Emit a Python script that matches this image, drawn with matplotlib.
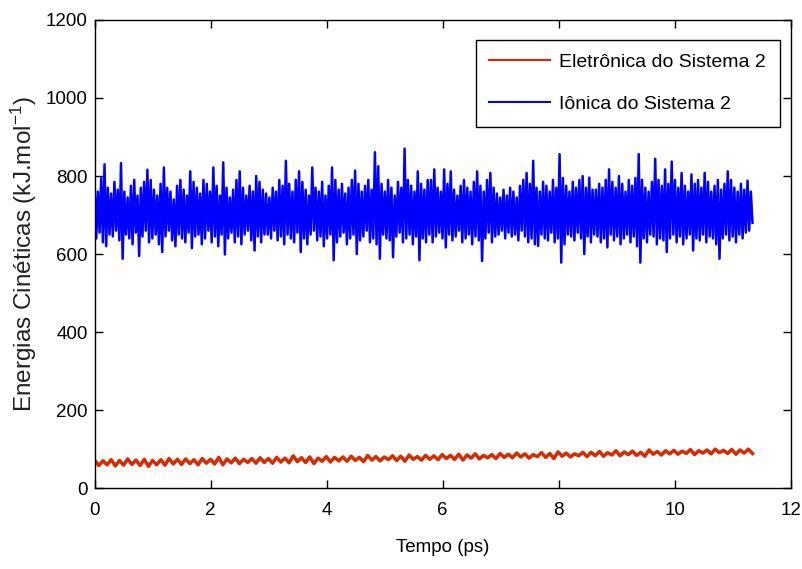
# Kinetic energies of system 2 (MATLAB-style plot)

import numpy as np
import matplotlib.pyplot as plt

plt.rcParams['font.family'] = ['Liberation Sans', 'DejaVu Sans']
plt.rcParams['mathtext.fontset'] = 'custom'
plt.rcParams['mathtext.rm'] = 'Liberation Sans'
plt.rcParams['mathtext.it'] = 'Liberation Sans:italic'

# ---- data ----
t_end = 11.34  # ps, last sample

# ionic kinetic energy: upper / lower swings of the noisy trace, left to right
ion_hi = [780, 760, 795, 830, 770, 755, 785, 765, 833, 760, 745, 775, 790, 750, 770, 785, 816, 790, 765, 750,
          780, 822, 770, 760, 740, 775, 790, 765, 750, 812, 785, 770, 755, 790, 780, 760, 822, 775, 750, 835,
          770, 745, 765, 790, 812, 770, 750, 775, 760, 800, 785, 765,
          755, 745, 770, 760, 790, 775, 839, 780, 760, 790, 812, 785, 765, 750, 822, 770, 760, 785, 750, 775,
          822, 790, 765, 780, 755, 770, 790, 814, 780, 760, 775, 790, 765, 861, 825, 780, 760, 790, 770, 750,
          785, 770, 870, 790, 775, 760, 812, 780, 765, 790,
          790, 817, 770, 760, 817, 780, 812, 765, 750, 775, 790, 770, 760, 785, 812, 775, 760, 790, 808, 770,
          755, 745, 765, 750, 770, 760, 745, 775, 790, 808, 780, 839, 770, 760, 785, 775, 760, 790, 770, 856,
          795, 775, 760, 785, 770, 790, 800, 770, 796, 765,
          765, 780, 770, 790, 817, 785, 770, 800, 780, 760, 790, 775, 795, 856, 790, 770, 760, 785, 844, 790,
          775, 817, 780, 837, 790, 770, 808, 775, 760, 804, 780, 790, 770, 808, 785, 760, 775, 790, 765, 780,
          812, 790, 770, 760, 780, 765, 788, 760]
ion_lo = [640, 655, 630, 620, 650, 645, 660, 635, 588, 650, 640, 625, 655, 595, 645, 660, 630, 640, 650, 625,
          605, 645, 660, 635, 620, 650, 640, 630, 655, 615, 645, 650, 625, 640, 660, 630, 645, 620, 650, 599,
          640, 655, 630, 645, 625, 650, 660, 635, 609, 645, 630, 650,
          650, 640, 660, 635, 645, 625, 650, 640, 630, 655, 605, 640, 625, 650, 660, 635, 645, 620, 640, 650,
          584, 630, 645, 655, 625, 640, 650, 600, 635, 645, 660, 630, 640, 625, 588, 650, 640, 635, 592, 645,
          655, 630, 640, 650, 625, 645, 584, 640, 630, 650,
          630, 645, 655, 640, 617, 650, 635, 645, 660, 630, 640, 650, 625, 645, 635, 582, 640, 655, 630, 645,
          650, 660, 640, 655, 645, 650, 635, 660, 645, 630, 640, 625, 621, 650, 640, 635, 655, 630, 640, 578,
          625, 650, 645, 635, 655, 640, 600, 645, 630, 650,
          645, 630, 640, 617, 650, 635, 645, 625, 640, 650, 630, 645, 620, 578, 640, 630, 650, 645, 625, 640,
          635, 605, 640, 650, 630, 645, 625, 640, 650, 609, 640, 635, 650, 630, 645, 640, 625, 588, 640, 650,
          635, 645, 630, 650, 640, 655, 660, 680]

# electronic kinetic energy: upper / lower swings, slowly rising
ele_hi = [72, 70, 73, 71, 75, 72, 74, 71, 73, 76, 74, 75, 73, 76, 74, 79, 75, 77, 74, 76,
          78, 76, 79, 77, 83, 78, 80, 77, 81, 79, 80, 82, 79, 84, 81, 80, 83, 82, 85, 81,
          84, 83, 86, 84, 87, 85, 88, 84, 86, 89, 87, 90, 88, 86, 91, 89, 93, 90, 88, 92,
          92, 94, 91, 96, 93, 95, 92, 98, 94, 96, 97, 95, 99, 96, 98, 100, 97, 99, 98, 100]
ele_lo = [58, 60, 57, 59, 61, 58, 56, 60, 59, 62, 61, 63, 60, 64, 62, 60, 65, 63, 66, 64,
          66, 64, 67, 65, 68, 66, 63, 69, 67, 70, 69, 71, 68, 72, 70, 73, 71, 69, 74, 72,
          74, 73, 76, 74, 72, 77, 75, 78, 76, 79, 78, 80, 77, 81, 79, 76, 82, 80, 83, 81,
          83, 82, 85, 83, 86, 84, 82, 87, 85, 88, 87, 89, 86, 90, 88, 91, 89, 87, 90, 89]

labels = ["Eletrônica do Sistema 2", "Iônica do Sistema 2"]
xticks = [0, 2, 4, 6, 8, 10, 12]
yticks = [0, 200, 400, 600, 800, 1000, 1200]

# interleave upper/lower swings into one trace
ion = np.ravel(np.column_stack([ion_hi, ion_lo]))
ele = np.ravel(np.column_stack([ele_hi, ele_lo]))
t_ion = np.linspace(0, t_end, len(ion))
t_ele = np.linspace(0, t_end, len(ele))

fig = plt.figure(figsize=(8.02, 5.69), dpi=100)
ax = fig.add_axes([0.118, 0.142, 0.868, 0.823])

ax.plot(t_ele, ele, color="#d62b00", lw=2.5, label=labels[0])
ax.plot(t_ion, ion, color="#0000ff", lw=1.8, label=labels[1])

ax.set_xlim(0, 12)
ax.set_ylim(0, 1200)
ax.set_xticks(xticks)
ax.set_yticks(yticks)
ax.tick_params(direction="in", top=True, right=True, length=6, width=1, labelsize=13.5)
ax.tick_params(axis="x", pad=10)
ax.tick_params(axis="y", pad=5)
for s in ax.spines.values():
    s.set_linewidth(1.0)

ax.set_xlabel("Tempo (ps)", fontsize=13.5, labelpad=14)
ax.set_ylabel("Energias Cinéticas (kJ.mol$^{-1}$)", fontsize=17.5, labelpad=5, color="#222222")

leg = ax.legend(loc="upper right", bbox_to_anchor=(0.984, 0.957), borderaxespad=0,
                fancybox=False, framealpha=1, edgecolor="black", handlelength=3.1,
                handletextpad=0.5, borderpad=0.7, labelspacing=1.25, fontsize=14)
leg.get_frame().set_linewidth(1.0)
for h in leg.get_lines():
    h.set_linewidth(1.5)

fig.savefig("out.png", dpi=100)
